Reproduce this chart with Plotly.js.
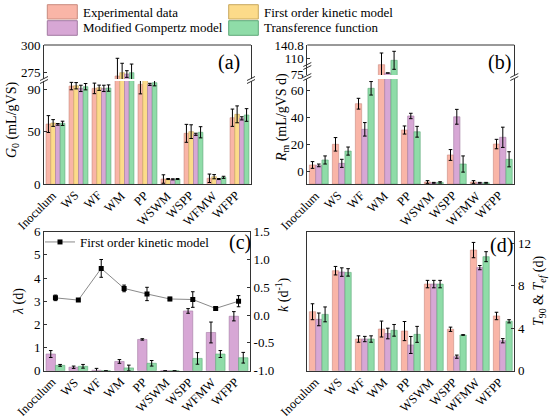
<!DOCTYPE html>
<html><head><meta charset="utf-8">
<script src="https://cdn.plot.ly/plotly-3.0.1.min.js"></script>
<style>html,body{margin:0;padding:0;background:#fff}#chart{width:550px;height:416px}</style>
</head><body><div id="chart"></div>
<script>
const categories = ['Inoculum','WS','WF','WM','PP','WSWM','WSPP','WFMW','WFPP'];
const seriesNames = ['Experimental data','First order kinetic model','Modified Gompertz model','Transference function'];

// (a) G0 (mL/gVS)
const g0Exp      = [57.1, 93.1, 90.9, 272.0, 94.7, 5.0, 48.3, 5.7, 63.1];
const g0ExpErr   = [8, 3.5, 5, 16, 9, 4, 8.5, 4, 8.2];
const g0First    = [58.1, 93.4, 91.5, 275.0, 99.0, 5.0, 49.9, 7.2, 66.3];
const g0FirstErr = [3.2, 3, 2.5, 8.5, 0, 0.5, 6.5, 2, 8];
const g0Gomp     = [56.8, 90.9, 90.9, 273.8, 94.7, 4.7, 47.4, 5.0, 62.5];
const g0GompErr  = [0.8, 3, 3, 3, 1, 0.5, 1, 0.5, 1.5];
const g0Trans    = [57.8, 92.5, 91.2, 275.0, 96.3, 5.0, 49.3, 6.6, 65.7];
const g0TransErr = [2, 3, 3, 7.8, 3, 0.5, 5.3, 1, 6];

// (b) Rm (mL/gVS d)
const rmExp      = [5.0, 20.3, 50.4, 96.2, 30.9, -7.6, 12.4, -7.6, 20.5];
const rmExpErr   = [2.5, 5, 4, 26.5, 3, 1, 4, 1, 3.5];
const rmGomp     = [4.7, 6.2, 31.4, 77.3, 41.3, -8.2, 40.7, -8.2, 25.5];
const rmGompErr  = [1, 3, 5, 0, 2, 0.3, 5.5, 0.3, 7.5];
const rmTrans    = [8.7, 15.3, 61.8, 106.1, 29.6, -7.9, 5.7, -8.2, 9.2];
const rmTransErr = [3, 3, 5, 20.4, 4, 0.5, 6, 0.3, 5.6];

// (c) lambda (d) and k (d^-1)
const lamGomp     = [0.72, 0.15, 0.02, 0.40, 1.35, 0, 2.58, 1.65, 2.35];
const lamGompErr  = [0.15, 0.05, 0.08, 0.08, 0.03, 0, 0.1, 0.45, 0.2];
const lamTrans    = [0.23, 0.19, 0, 0.12, 0.32, 0, 0.53, 0.72, 0.56];
const lamTransErr = [0.04, 0.08, 0, 0.12, 0.12, 0, 0.25, 0.15, 0.23];
const kFirst      = [0.31, 0.27, 0.84, 0.48, 0.38, 0.29, 0.28, 0.12, 0.25];
const kFirstErr   = [0.05, 0.02, 0.16, 0.06, 0.12, 0.03, 0.14, 0.03, 0.1];

// (d) T90 & Tef (d)
const tExp      = [5.55, 9.41, 2.98, 3.92, 3.73, 8.15, 3.9, 11.35, 5.15];
const tExpErr   = [0.75, 0.4, 0.3, 0.75, 0.9, 0.35, 0.2, 0.72, 0.35];
const tGomp     = [4.83, 9.28, 2.98, 3.5, 2.42, 8.15, 1.32, 9.7, 2.82];
const tGompErr  = [0.6, 0.4, 0.25, 0.5, 0.8, 0.35, 0.15, 0.2, 0.2];
const tTrans    = [5.3, 9.25, 2.98, 3.8, 3.42, 8.15, 3.36, 10.73, 4.65];
const tTransErr = [0.7, 0.35, 0.3, 0.55, 0.75, 0.35, 0.03, 0.47, 0.15];

const kTicks = [-1, -0.5, 0, 0.5, 1, 1.5];
const kTickText = ['-1.0','-0.5','0.0','0.5','1.0','1.5'];

const RM_MIN = -9.1;

const COL = {
  exp:   {fill:'#F9B5A7', line:'#C98A7E'},
  first: {fill:'#FCDB8A', line:'#C8A85E'},
  gomp:  {fill:'#D7A7D5', line:'#A27AA2'},
  trans: {fill:'#8FDCA8', line:'#5EA878'}
};

const W = 550, H = 416;
const px = v => v / W;
const py = v => 1 - v / H;

function bar(y, err, c, xa, ya, base) {
  const t = {
    type:'bar', x:categories, y:y, xaxis:xa, yaxis:ya, showlegend:false,
    marker:{color:c.fill, line:{color:c.line, width:0.6}},
    error_y:{type:'data', array:err, visible:true, color:'#000', thickness:1, width:1.8},
    hoverinfo:'skip'
  };
  if (base !== undefined) { t.y = y.map(v => v - base); t.base = base; }
  return t;
}

const traces = [];
['y','y2'].forEach(ya => {
  traces.push(bar(g0Exp, g0ExpErr, COL.exp, 'x', ya));
  traces.push(bar(g0First, g0FirstErr, COL.first, 'x', ya));
  traces.push(bar(g0Gomp, g0GompErr, COL.gomp, 'x', ya));
  traces.push(bar(g0Trans, g0TransErr, COL.trans, 'x', ya));
});
['y3','y4'].forEach(ya => {
  traces.push(bar(rmExp, rmExpErr, COL.exp, 'x2', ya, RM_MIN));
  traces.push(bar(rmGomp, rmGompErr, COL.gomp, 'x2', ya, RM_MIN));
  traces.push(bar(rmTrans, rmTransErr, COL.trans, 'x2', ya, RM_MIN));
});
traces.push(bar(lamGomp, lamGompErr, COL.gomp, 'x3', 'y5'));
traces.push(bar(lamTrans, lamTransErr, COL.trans, 'x3', 'y5'));
traces.push({
  type:'scatter', mode:'lines+markers', x:categories, y:kFirst, xaxis:'x3', yaxis:'y6',
  name:seriesNames[1], showlegend:true,
  line:{color:'#8a8a8a', width:1},
  marker:{symbol:'square', size:5, color:'#000'},
  error_y:{type:'data', array:kFirstErr, visible:true, color:'#000', thickness:1, width:1.8}
});
traces.push(bar(tExp, tExpErr, COL.exp, 'x4', 'y7'));
traces.push(bar(tGomp, tGompErr, COL.gomp, 'x4', 'y7'));
traces.push(bar(tTrans, tTransErr, COL.trans, 'x4', 'y7'));

const FONT = '"Liberation Serif", "Times New Roman", Times, serif';
const AX = {showgrid:false, zeroline:false, showline:true, linecolor:'#333', linewidth:1,
  ticks:'inside', ticklen:3, tickcolor:'#333', tickfont:{size:13, family:FONT, color:'#000'}, fixedrange:true};
const XA = Object.assign({}, AX, {type:'category', range:[-0.5, 8.5], ticks:'', showticklabels:false});

const layout = {
  width:W, height:H, margin:{l:0, r:0, t:0, b:0},
  paper_bgcolor:'#fff', plot_bgcolor:'rgba(0,0,0,0)',
  font:{family:FONT, color:'#000', size:13},
  barmode:'group', bargap:0.18, bargroupgap:0,
  showlegend:true,
  legend:{x:px(40), y:py(242), xanchor:'left', yanchor:'middle', bgcolor:'rgba(0,0,0,0)',
    font:{size:13, family:FONT}, itemwidth:30, tracegroupgap:0},
  xaxis:  Object.assign({}, XA, {domain:[px(44), px(251)], anchor:'y'}),
  yaxis:  Object.assign({}, AX, {domain:[py(184.3), py(81)], range:[0, 97.9], tickvals:[0,50,90], mirror:true, anchor:'x'}),
  yaxis2: Object.assign({}, AX, {domain:[py(79), py(45)], range:[269.3, 300], tickvals:[275,300], mirror:true, anchor:'x'}),
  xaxis2: Object.assign({}, XA, {domain:[px(307.3), px(514.3)], anchor:'y3'}),
  yaxis3: Object.assign({}, AX, {domain:[py(184), py(79)], range:[RM_MIN, 68.7], tickvals:[0,20,40,60], mirror:true, anchor:'x2'}),
  yaxis4: Object.assign({}, AX, {domain:[py(75), py(45)], range:[72.8, 140.8], tickvals:[75,110,140.8], mirror:true, anchor:'x2'}),
  xaxis3: Object.assign({}, XA, {domain:[px(44), px(250)], anchor:'y5', mirror:true}),
  yaxis5: Object.assign({}, AX, {domain:[py(370.7), py(231.7)], range:[0, 6], dtick:1, anchor:'x3'}),
  yaxis6: Object.assign({}, AX, {overlaying:'y5', side:'right', anchor:'x3', range:[-1, 1.5], tickvals:kTicks, ticktext:kTickText}),
  xaxis4: Object.assign({}, XA, {domain:[px(307.3), px(514.3)], anchor:'y7', mirror:true}),
  yaxis7: Object.assign({}, AX, {domain:[py(370.7), py(231.7)], side:'right', anchor:'x4', range:[0, 13.08], tickvals:[0,4,8,12], mirror:true}),
  shapes:[], annotations:[]
};

const S = layout.shapes, A = layout.annotations;
function hline(x0, x1, y) { S.push({type:'line', xref:'paper', yref:'paper', x0:px(x0), x1:px(x1), y0:py(y), y1:py(y), line:{color:'#333', width:1}}); }
function breakMark(x, c) {
  [-1.5, 1.5].forEach(d => S.push({type:'line', xref:'paper', yref:'paper',
    x0:px(x-4), y0:py(c+d+2), x1:px(x+4), y1:py(c+d-2), line:{color:'#333', width:1}}));
}
hline(44, 251, 45);
hline(307.3, 514.3, 45);
breakMark(44, 80); breakMark(251, 80);
breakMark(307.3, 77); breakMark(514.3, 77); breakMark(307.3, 66);

// category tick labels, rotated -45, anchored on each x axis category
[['x', 186], ['x2', 186], ['x3', 372.5], ['x4', 372.5]].forEach(([xa, yb]) => {
  categories.forEach(c => A.push({xref:xa, yref:'paper', x:c, y:py(yb), xanchor:'right', yanchor:'top',
    xshift:6, text:c, textangle:-45, showarrow:false, font:{size:12.5, family:FONT, color:'#000'}}));
});

const legendItems = [
  [47.3, 4.7, 77.3, 19, COL.exp, 81, 12, seriesNames[0]],
  [228.7, 4.7, 258.3, 19, COL.first, 262, 12, seriesNames[1]],
  [47.3, 20.7, 77.3, 35.3, COL.gomp, 81, 28, seriesNames[2]],
  [228.7, 20.7, 258.3, 35.3, COL.trans, 262, 28, seriesNames[3]]
];
legendItems.forEach(([x0,y0,x1,y1,c,tx,ty,txt]) => {
  S.push({type:'rect', xref:'paper', yref:'paper', x0:px(x0), x1:px(x1), y0:py(y1), y1:py(y0),
    fillcolor:c.fill, line:{color:c.line, width:1}});
  A.push({xref:'paper', yref:'paper', x:px(tx), y:py(ty), xanchor:'left', yanchor:'middle',
    text:txt, showarrow:false, font:{size:13, family:FONT}});
});

function ann(x, y, text, size, angle) {
  A.push({xref:'paper', yref:'paper', x:px(x), y:py(y), xanchor:'center', yanchor:'middle',
    text:text, showarrow:false, textangle:angle || 0, font:{size:size, family:FONT, color:'#000'}});
}
ann(13, 120, '<i>G</i><sub>0</sub> (mL/gVS)', 14, -90);
ann(282, 118, '<i>R</i><sub>m</sub> (mL/gVS d)', 14, -90);
ann(19, 302, '<i>λ</i> (d)', 14, -90);
ann(282, 295, '<i>k</i> (d<sup>-1</sup>)', 14, -90);
ann(539, 291, '<i>T</i><sub>90</sub> &amp; <i>T</i><sub><i>ef</i></sub> (d)', 14, -90);
ann(229, 62, '(a)', 20);
ann(499, 62, '(b)', 20);
ann(240, 242, '(c)', 20);
ann(501, 245, '(d)', 20);

Plotly.newPlot('chart', traces, layout, {displayModeBar:false, staticPlot:true});
</script>
</body></html>
